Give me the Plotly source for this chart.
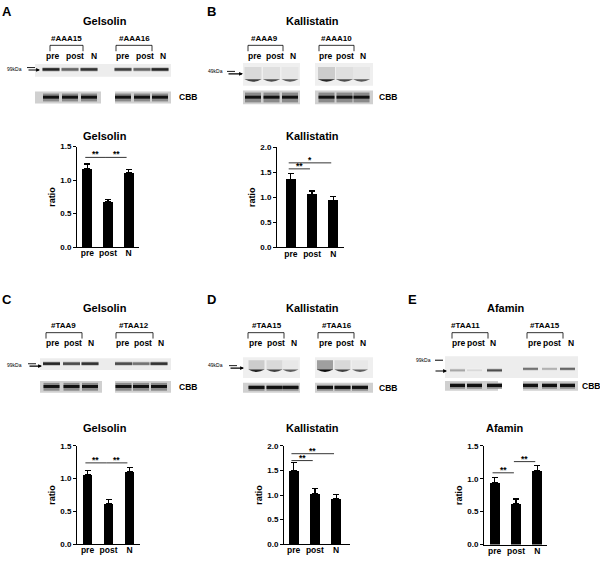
import plotly.graph_objects as go

W, H = 600, 563
FONT = "Liberation Sans"

categories = ["pre", "post", "N"]

# bar heights (ratio) and upper error (SEM)
gelsolin_aaa = [1.17, 0.68, 1.11]
gelsolin_aaa_err = [0.07, 0.03, 0.05]
kallistatin_aaa = [1.35, 1.05, 0.94]
kallistatin_aaa_err = [0.13, 0.08, 0.08]
gelsolin_taa = [1.06, 0.62, 1.11]
gelsolin_taa_err = [0.06, 0.065, 0.055]
kallistatin_taa = [1.50, 1.03, 0.93]
kallistatin_taa_err = [0.16, 0.10, 0.08]
afamin_taa = [0.945, 0.615, 1.12]
afamin_taa_err = [0.075, 0.075, 0.08]

# significance brackets: (from bar, to bar, height, label)
sig_gelsolin_aaa = [(0, 1, 1.34, "**"), (1, 2, 1.34, "**")]
sig_kallistatin_aaa = [(0, 1, 1.57, "**"), (0, 2, 1.69, "*")]
sig_gelsolin_taa = [(0, 1, 1.24, "**"), (1, 2, 1.24, "**")]
sig_kallistatin_taa = [(0, 1, 1.70, "**"), (0, 2, 1.84, "**")]
sig_afamin_taa = [(0, 1, 1.09, "**"), (1, 2, 1.26, "**")]

# western blot band darkness per lane (0 = none, 1 = black)
bands_gelsolin_aaa = [0.85, 0.6, 0.8, 0.75, 0.6, 0.85]
bands_kallistatin_aaa = [0.3, 0.25, 0.2, 0.4, 0.25, 0.2]
bands_gelsolin_taa = [0.85, 0.7, 0.8, 0.7, 0.55, 0.8]
bands_kallistatin_taa = [0.4, 0.3, 0.18, 0.75, 0.3, 0.18]
bands_afamin_taa = [0.35, 0.15, 0.7, 0.55, 0.3, 0.6]


def X(px):
    return px / W


def Y(py):
    return 1 - py / H


def gray(d):
    g = int(round(255 * (1 - d)))
    return "rgb(%d,%d,%d)" % (g, g, g)


fig = go.Figure()
shapes = []
annos = []


def text(x, y, s, size=8, bold=True, xanchor="center"):
    annos.append(dict(x=X(x), y=Y(y), xref="paper", yref="paper", text=s,
                      showarrow=False, xanchor=xanchor, yanchor="middle",
                      font=dict(family=FONT, size=size, color="black",
                                weight="bold" if bold else "normal")))


def rect(x0, y0, x1, y1, color):
    shapes.append(dict(type="rect", xref="paper", yref="paper", x0=X(x0), x1=X(x1),
                       y0=Y(y1), y1=Y(y0), fillcolor=color, line=dict(width=0)))


def line(x0, y0, x1, y1, w=0.8):
    shapes.append(dict(type="line", xref="paper", yref="paper", x0=X(x0), x1=X(x1),
                       y0=Y(y0), y1=Y(y1), line=dict(color="black", width=w)))


def arrow(x0, x1, y):
    annos.append(dict(x=X(x1), y=Y(y), ax=-(x1 - x0), ay=0, xref="paper", yref="paper",
                      text="", showarrow=True, standoff=0,
                      arrowhead=2, arrowsize=0.7, arrowwidth=1.1, arrowcolor="black"))


def header(letter, lx, title, tx, groups, labels, top):
    text(lx, top, letter, size=13)
    text(tx, top + 9, title, size=11)
    for name, cx, b0, b1 in groups:
        text(cx, top + 27, name, size=8)
        line(b0, top + 34, b1, top + 34)
        line(b0, top + 34, b0, top + 40)
        line(b1, top + 34, b1, top + 40)
    for lab, x in zip(categories * 2, labels):
        text(x, top + 45, lab, size=8.5)


def thin_bands(lanes, dark, y, lw=17, h=2.6):
    for x, d in zip(lanes, dark):
        rect(x - lw / 2, y - h / 2 - 0.8, x + lw / 2, y + h / 2 + 0.8, gray(d * 0.35))
        rect(x - lw / 2, y - h / 2, x + lw / 2, y + h / 2, gray(d))


def blobs(lanes, dark, y0, y1, lw=17):
    for x, d in zip(lanes, dark):
        rect(x - lw / 2, y0 + 1, x + lw / 2, y1 - 3, gray(d * 0.5))
        shapes.append(dict(type="path", xref="paper", yref="paper",
                           path="M %f %f Q %f %f %f %f Z" % (
                               X(x - lw / 2), Y(y1 - 3.5), X(x), Y(y1 + 1.5), X(x + lw / 2), Y(y1 - 3.5)),
                           fillcolor=gray(min(0.95, d + 0.45)), line=dict(width=0)))


def cbb(segs, lanes, y0, y1, lw=16):
    for a, b in segs:
        rect(a, y0, b, y1, "#d0d0d0")
    yc = (y0 + y1) / 2
    for x in lanes:
        rect(x - lw / 2, y0 + 2, x + lw / 2, y1 - 2, "#8a8a8a")
        rect(x - lw / 2, yc - 1.8, x + lw / 2, yc + 1.2, "#111111")


# ---------------- blots ----------------
# A
lanesA = [51, 70, 89, 123, 142, 160]
header("A", 7, "Gelsolin", 105, [("#AAA15", 66, 50, 83), ("#AAA16", 134, 116, 152)],
       [53, 75, 94, 123, 145, 163], 8)
rect(35, 61, 171, 74, "#ededed")
thin_bands(lanesA, bands_gelsolin_aaa, 66.5)
cbb([(35, 101), (115, 171)], lanesA, 89, 101)
text(188, 95, "CBB", 8.5)
text(14, 66, "99kDa", 5, bold=False)
line(27, 64.6, 35, 64.6, 0.9)
arrow(27, 40, 67)

# B
lanesB = [253, 271.5, 290, 326.5, 344.5, 361.5]
header("B", 211, "Kallistatin", 312, [("#AAA9", 264, 248, 283), ("#AAA10", 336, 319, 354)],
       [255, 274.5, 293, 326, 344.5, 362.5], 8)
rect(243, 60, 300, 83, "#efefef")
rect(315, 60, 373, 83, "#efefef")
blobs(lanesB, bands_kallistatin_aaa, 63, 80)
cbb([(243, 300), (315, 373)], lanesB, 88, 102)
text(388, 95, "CBB", 8.5)
text(215, 68, "49kDa", 5, bold=False)
line(227, 68.5, 235, 68.5, 0.9)
arrow(227, 243, 71)

# C
lanesC = [51.5, 71.5, 90, 123.5, 141, 159]
header("C", 7, "Gelsolin", 105, [("#TAA9", 63, 46, 82), ("#TAA12", 134, 116, 153)],
       [53, 73, 91, 123, 143, 161], 300)
rect(40, 360, 171, 372, "#ececec")
thin_bands(lanesC, bands_gelsolin_taa, 365.5)
cbb([(40, 102), (115, 171)], lanesC, 383, 395)
text(188, 389, "CBB", 8.5)
text(14, 367, "99kDa", 5, bold=False)
line(28, 365.6, 36, 365.6, 0.9)
arrow(28, 42, 368)

# D
lanesD = [256.5, 274.5, 290.5, 325, 342.5, 360]
header("D", 211, "Kallistatin", 313, [("#TAA15", 267, 248, 284), ("#TAA16", 337, 318, 354)],
       [255.5, 275.5, 293.5, 325.5, 345, 363], 300)
rect(243, 359, 300, 380, "#efefef")
rect(315, 359, 373, 380, "#efefef")
blobs(lanesD, bands_kallistatin_taa, 361, 375, lw=16)
cbb([(243, 300), (315, 373)], lanesD, 385, 395)
text(388, 390, "CBB", 8.5)
text(215, 367, "49kDa", 5, bold=False)
line(229, 367.5, 237, 367.5, 0.9)
arrow(229, 244, 370)

# E
lanesE = [457.5, 474.5, 494.5, 530.5, 549.5, 567.5]
header("E", 412, "Afamin", 506, [("#TAA11", 466, 452, 488), ("#TAA15", 545, 527, 563)],
       [459, 476, 493, 534.5, 551.5, 570.5], 300)
rect(445, 358, 578, 380, "#ededed")
thin_bands(lanesE[:3], bands_afamin_taa[:3], 372.3, lw=15, h=2)
thin_bands(lanesE[3:], bands_afamin_taa[3:], 370.8, lw=15, h=2)
cbb([(445, 498), (523, 578)], lanesE, 383, 393, lw=15)
text(591, 388, "CBB", 8.5)
text(423, 362, "99kDa", 5, bold=False)
line(435, 362, 443, 362, 1)
arrow(434, 447, 373)

# ---------------- bar charts ----------------
panels = [
    ("Gelsolin", 105, 134, gelsolin_aaa, gelsolin_aaa_err, sig_gelsolin_aaa,
     (77, 139), (145, 247), 1.5, [-0.5, 2.5]),
    ("Kallistatin", 312, 134, kallistatin_aaa, kallistatin_aaa_err, sig_kallistatin_aaa,
     (277, 344), (145.7, 247.3), 2.0, [-0.65, 2.5]),
    ("Gelsolin", 105, 431, gelsolin_taa, gelsolin_taa_err, sig_gelsolin_taa,
     (77, 140), (449, 549), 1.5, [-0.5, 2.5]),
    ("Kallistatin", 312, 431, kallistatin_taa, kallistatin_taa_err, sig_kallistatin_taa,
     (284, 350), (449, 549), 2.0, [-0.45, 2.65]),
    ("Afamin", 505, 431, afamin_taa, afamin_taa_err, sig_afamin_taa,
     (484, 547), (449, 549.3), 1.5, [-0.5, 2.45]),
]

xpos = list(range(len(categories)))
tickfont = dict(family=FONT, size=8, color="black", weight="bold")
for k, (title, tx, ty, vals, errs, sigs, xd, yd, ymax, xr) in enumerate(panels):
    n = "" if k == 0 else str(k + 1)
    xa, ya = "x" + n, "y" + n
    fig.add_trace(go.Bar(
        x=xpos, y=vals, xaxis=xa, yaxis=ya, width=0.47,
        marker=dict(color="black", line=dict(width=0)),
        error_y=dict(type="data", array=errs, arrayminus=[0] * len(errs), symmetric=False,
                     color="black", thickness=1.3, width=3),
        showlegend=False))
    fig.layout["xaxis" + n] = dict(
        domain=[X(xd[0]), X(xd[1])], anchor=ya, range=xr, tickmode="array",
        tickvals=xpos, ticktext=categories, showline=True, linecolor="black",
        linewidth=1, ticks="", showgrid=False, zeroline=False, fixedrange=True,
        ticklabelstandoff=-2,
        tickfont=dict(family=FONT, size=8.5, color="black", weight="bold"))
    fig.layout["yaxis" + n] = dict(
        domain=[Y(yd[1]), Y(yd[0])], anchor=xa, range=[0, ymax], dtick=0.5,
        tickformat=".1f", showline=True, linecolor="black", linewidth=1,
        ticks="outside", ticklen=3, tickwidth=1, tickcolor="black",
        showgrid=False, zeroline=False, tickfont=tickfont,
        title=dict(text="ratio", standoff=3,
                   font=dict(family=FONT, size=9, color="black", weight="bold")))
    text(tx, ty, title, 11)
    for i, j, lvl, lab in sigs:
        shapes.append(dict(type="line", xref=xa, yref=ya, x0=i - 0.1, x1=j - 0.1,
                           y0=lvl, y1=lvl, line=dict(color="black", width=0.8)))
        annos.append(dict(x=(i + j) / 2 - 0.1, y=lvl, xref=xa, yref=ya, text=lab,
                          showarrow=False, yanchor="middle", yshift=3,
                          font=dict(family=FONT, size=8.5, color="black", weight="bold")))

fig.update_layout(
    width=W, height=H, margin=dict(l=0, r=0, t=0, b=0),
    paper_bgcolor="white", plot_bgcolor="white",
    shapes=shapes, annotations=annos, bargap=0)

# the page body has a default 8px margin; drop it so the figure fills the window
fig.write_html("out.html", config={"displayModeBar": False},
               post_script="document.body.style.margin='0';")
